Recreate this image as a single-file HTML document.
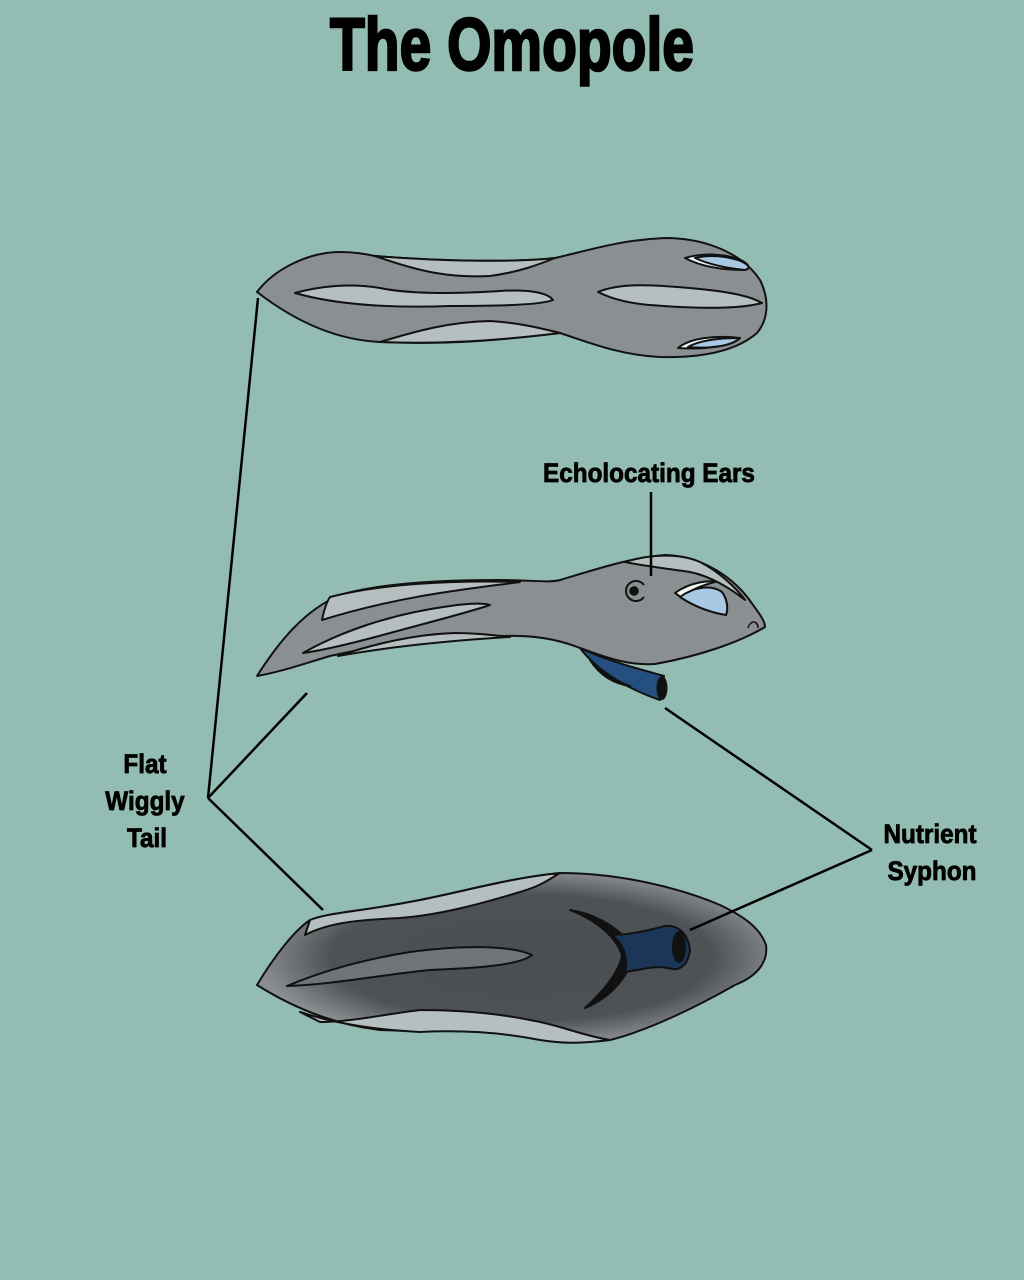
<!DOCTYPE html>
<html><head><style>
html,body{margin:0;padding:0;background:#93bdb2;}
svg{display:block}
text{font-family:"Liberation Sans",sans-serif;font-weight:bold;fill:#000}
</style></head><body>
<svg width="1024" height="1280" viewBox="0 0 1024 1280">
<defs>
<radialGradient id="dk" cx="0.52" cy="0.5" r="0.52">
<stop offset="0" stop-color="#4a4e50"/><stop offset="0.72" stop-color="#4e5254"/><stop offset="1" stop-color="#8a8e90"/>
</radialGradient>
</defs>
<rect width="1024" height="1280" fill="#93bdb2"/>
<text x="512" y="70" text-anchor="middle" font-size="74" stroke="#000" stroke-width="2.5" transform="translate(512,0) scale(0.77,1) translate(-512,0)">The Omopole</text>

<!-- top creature -->
<g stroke="#111" stroke-width="2" stroke-linejoin="round">
<path d="M257,292 C275,268 310,252 340,252 C355,252 365,254 375,256 C450,262 520,262 555,258 C590,250 620,240 665,238 C700,238 740,250 760,280 C770,300 768,320 757,333 C735,352 700,358 660,357 C620,355 590,343 560,333 C500,340 450,345 380,342 C340,340 300,325 257,292 Z" fill="#8a8f91"/>
<path d="M375,256 C420,272 450,278 490,276 C520,272 540,264 555,258 C520,262 450,262 375,256 Z" fill="#b6bfbf"/>
<path d="M380,342 C420,330 450,322 490,321 C520,323 540,328 560,333 C520,338 450,345 380,342 Z" fill="#b6bfbf"/>
<path d="M295,293 C320,286 350,283 380,288 C410,294 450,294 500,291 C530,289 548,293 553,300 C540,305 500,306 450,306 C400,308 340,306 295,293 Z" fill="#b6bfbf"/>
<path d="M598,292 C620,283 650,284 700,289 C730,292 750,296 762,303 C740,309 700,309 650,305 C625,303 610,298 598,292 Z" fill="#b6bfbf"/>
<path d="M685,258 C705,252 725,255 735,258 C748,262 752,268 745,270 C720,270 700,266 685,258 Z" fill="#f2f4f4"/>
<path d="M695,258 C712,254 728,257 738,260 C748,264 752,268 745,270 C725,268 708,264 695,258 Z" fill="#a9c8e4"/>
<path d="M678,348 C690,338 715,335 740,338 C730,346 705,350 678,348 Z" fill="#f2f4f4"/>
<path d="M688,347 C700,340 720,338 740,338 C732,346 710,349 688,347 Z" fill="#a9c8e4"/>
</g>

<!-- middle creature -->
<g stroke="#111" stroke-width="2" stroke-linejoin="round">
<path d="M580,648 C605,660 635,668 664,676 L660,700 C630,690 598,672 580,648 Z" fill="#244f7e"/>
<path d="M590,660 C600,672 612,680 630,686 C615,684 600,676 590,660 Z" fill="#8a8f91"/>
<ellipse cx="662" cy="688" rx="5.5" ry="12" fill="#111" stroke="none"/>
<path d="M257,676 C280,640 305,610 340,595 C380,583 440,580 500,580 C530,580 550,583 560,580 C600,568 630,558 665,555 C700,556 730,575 748,598 C758,612 765,620 765,627 C740,642 700,656 655,664 C625,666 600,655 580,648 C555,638 530,635 505,636 C440,635 380,645 330,656 C300,665 280,672 257,676 Z" fill="#8a8f91"/>
<path d="M330,597 C380,584 450,580 520,582 C460,590 400,596 322,620 C324,610 326,603 330,597 Z" fill="#b6bfbf"/>
<path d="M303,653 C340,632 390,614 450,606 C470,603 485,603 490,605 C470,612 430,622 390,633 C350,644 325,650 303,653 Z" fill="#b6bfbf"/>
<path d="M338,656 C380,642 420,634 455,633 C480,633 500,636 510,637 C460,640 400,645 338,656 Z" fill="#b6bfbf"/>
<path d="M625,562 C650,554 680,553 700,562 C720,572 738,590 745,600 C730,588 710,576 690,572 C670,569 645,566 625,562 Z" fill="#b6bfbf"/>
<path d="M675,593 C690,582 710,580 715,582 C700,586 690,590 682,598 Z" fill="#f2f4f4"/>
<path d="M680,597 C695,586 712,585 722,592 C728,600 728,610 726,615 C708,612 692,605 680,597 Z" fill="#a9c8e4"/>
<path d="M644,597 A10,10 0 1,1 644,585" fill="none" stroke-width="2"/>
<circle cx="634" cy="591" r="3.8" fill="#111"/>
<path d="M748,628 C750,620 758,620 758,628" fill="none" stroke-width="1.5"/>
</g>

<!-- bottom creature -->
<g stroke="#111" stroke-width="2" stroke-linejoin="round">
<path d="M257,985 C275,955 295,930 310,920 C330,912 360,912 420,900 C470,890 510,878 560,873 C620,873 680,888 720,905 C745,917 760,928 766,945 C768,960 760,975 735,985 C700,1005 650,1030 610,1040 C570,1045 540,1040 500,1032 C460,1030 420,1032 380,1030 C340,1025 300,1012 257,985 Z" fill="url(#dk)"/>
<path d="M310,920 C330,912 360,912 420,900 C470,890 510,878 560,873 C545,882 540,886 520,892 C480,904 440,915 400,918 C360,920 330,922 305,935 Z" fill="#b6bfbf"/>
<path d="M300,1012 C340,1025 380,1030 420,1032 C460,1030 500,1032 540,1040 C570,1045 590,1042 610,1040 C580,1035 560,1025 530,1020 C490,1012 450,1010 420,1010 C380,1015 350,1022 320,1022 Z" fill="#b6bfbf"/>
<path d="M287,986 C320,972 360,960 410,952 C460,945 510,945 532,955 C520,965 480,968 430,970 C380,975 330,985 287,986 Z" fill="#6f7476"/>
<path d="M570,910 C600,915 625,932 633,950 C632,975 610,998 585,1008 C605,990 620,970 622,955 C615,935 595,920 570,910 Z" fill="#111"/>
<path d="M612,935 C630,935 650,930 665,926 C680,925 688,935 690,950 C688,965 680,972 668,968 C655,965 640,970 625,972 C628,960 625,945 612,935 Z" fill="#1c3658"/>
<ellipse cx="679" cy="947" rx="7" ry="16" fill="#111" stroke="none"/>
</g>

<!-- connector lines -->
<g stroke="#000" stroke-width="2.5" fill="none">
<line x1="208" y1="798" x2="258" y2="298"/>
<line x1="208" y1="798" x2="307" y2="693"/>
<line x1="208" y1="798" x2="323" y2="910"/>
<line x1="872" y1="850" x2="665" y2="708"/>
<line x1="872" y1="850" x2="690" y2="930"/>
<line x1="651" y1="492" x2="651" y2="576"/>
</g>

<g font-size="27" text-anchor="middle" stroke="#000" stroke-width="0.8">
<text x="649" y="482" transform="translate(649,0) scale(0.9,1) translate(-649,0)">Echolocating Ears</text>
<text x="145" y="773" transform="translate(145,0) scale(0.9,1) translate(-145,0)">Flat</text>
<text x="145" y="810" transform="translate(145,0) scale(0.9,1) translate(-145,0)">Wiggly</text>
<text x="147" y="847" transform="translate(147,0) scale(0.9,1) translate(-147,0)">Tail</text>
<text x="930" y="843" transform="translate(930,0) scale(0.9,1) translate(-930,0)">Nutrient</text>
<text x="932" y="880" transform="translate(932,0) scale(0.9,1) translate(-932,0)">Syphon</text>
</g>
</svg>
</body></html>
